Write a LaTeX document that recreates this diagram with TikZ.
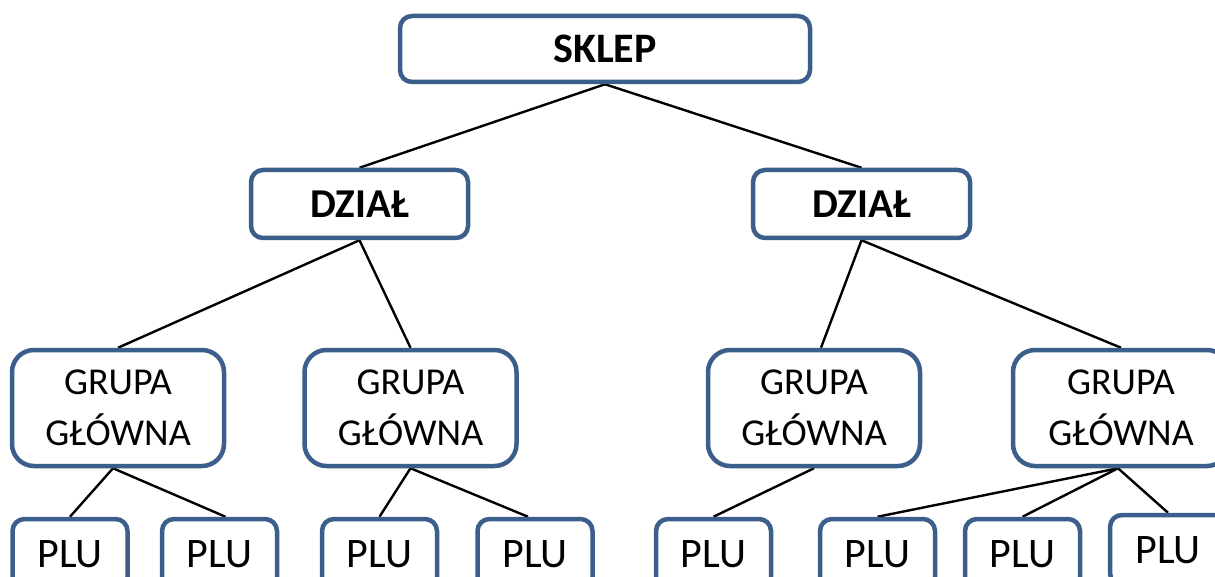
\documentclass[tikz,border=0pt]{standalone}
\usepackage{fontspec}
\setmainfont{Carlito}
\usetikzlibrary{backgrounds}
\definecolor{boxblue}{RGB}{59,94,139}
\tikzset{
  box/.style={draw=boxblue, line width=4.5pt, rounded corners=12pt, fill=white, align=center, inner sep=0pt},
  topbox/.style={box, minimum width=410pt, minimum height=66pt, font=\fontsize{42}{50}\selectfont\bfseries},
  dzbox/.style={box, minimum width=217pt, minimum height=68pt, font=\fontsize{41}{48}\selectfont\bfseries},
  grbox/.style={box, rounded corners=22pt, minimum width=212pt, minimum height=116pt, font=\fontsize{38}{51}\selectfont},
  plubox/.style={box, minimum width=115pt, minimum height=70pt, font=\fontsize{42}{50}\selectfont},
  conn/.style={draw=black, line width=2.4pt}
}
\begin{document}
\begin{tikzpicture}[x=1pt,y=-1pt]
\useasboundingbox (0,0) rectangle (1215,577);
\clip (0,0) rectangle (1215,577);
\node[topbox] (sklep) at (605,49) {SKLEP};
\node[dzbox] (d1) at (359.5,204) {DZIAŁ};
\node[dzbox] (d2) at (861.5,204) {DZIAŁ};
\node[grbox] (g1) at (118,408) {GRUPA\\GŁÓWNA};
\node[grbox] (g2) at (410.5,408) {GRUPA\\GŁÓWNA};
\node[grbox] (g3) at (814,408) {GRUPA\\GŁÓWNA};
\node[grbox, minimum width=216pt] (g4) at (1121,408) {GRUPA\\GŁÓWNA};
\node[plubox] (p1) at (70,554) {PLU};
\node[plubox] (p2) at (219.5,554) {PLU};
\node[plubox] (p3) at (379.5,554) {PLU};
\node[plubox] (p4) at (535,554) {PLU};
\node[plubox] (p5) at (713.5,554) {PLU};
\node[plubox] (p6) at (877.5,554) {PLU};
\node[plubox] (p7) at (1022.5,554) {PLU};
\node[plubox, minimum width=116pt] (p8) at (1168,550) {PLU};
\begin{scope}[on background layer]
\draw[conn] (sklep.south) -- (d1.north);
\draw[conn] (sklep.south) -- (d2.north);
\draw[conn] (d1.south) -- (g1.north);
\draw[conn] (d1.south) -- (g2.north);
\draw[conn] (d2.south) -- ([xshift=7pt]g3.north);
\draw[conn] (d2.south) -- (g4.north);
\draw[conn] ([xshift=-5pt]g1.south) -- (p1.north);
\draw[conn] ([xshift=-5pt]g1.south) -- ([xshift=6pt]p2.north);
\draw[conn] (g2.south) -- (p3.north);
\draw[conn] (g2.south) -- ([xshift=-7pt]p4.north);
\draw[conn] (g3.south) -- (p5.north);
\draw[conn] ([xshift=-3pt]g4.south) -- (p6.north);
\draw[conn] ([xshift=-3pt]g4.south) -- (p7.north);
\draw[conn] ([xshift=-3pt]g4.south) -- (p8.north);
\end{scope}
\end{tikzpicture}
\end{document}
